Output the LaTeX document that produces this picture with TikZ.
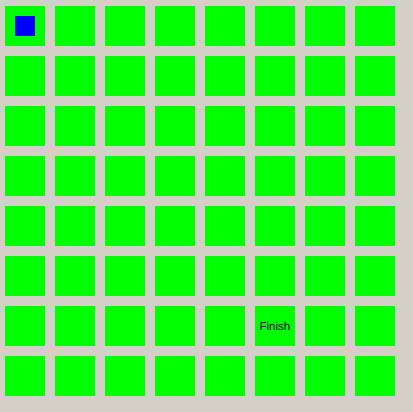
\documentclass[tikz,border=0pt]{standalone}
\usepackage{fontspec}
\setmainfont{Liberation Sans}
\definecolor{bg}{HTML}{D4D0C8}
\definecolor{cellgreen}{HTML}{00FF00}
\definecolor{marker}{HTML}{0000FF}
\begin{document}
\begin{tikzpicture}[x=1pt,y=1pt,
  cell/.style={fill=cellgreen,draw=none,minimum width=40pt,minimum height=40pt,inner sep=0pt,outer sep=0pt},
  player/.style={fill=marker,draw=none,minimum width=20pt,minimum height=20pt,inner sep=0pt}]
\fill[bg] (0,0) rectangle (413,412);
\useasboundingbox (0,0) rectangle (413,412);
\foreach \i in {0,...,7}{
  \foreach \j in {0,...,7}{
    \node[cell] (c\i\j) at ({25+50*\i},{412-26-50*\j}) {};
  }
}
\node[player] (p) at (c00) {};
\node[font=\fontsize{11.5}{12}\selectfont,inner sep=0pt] (fin) at (c56) {Finish};
\end{tikzpicture}
\end{document}
